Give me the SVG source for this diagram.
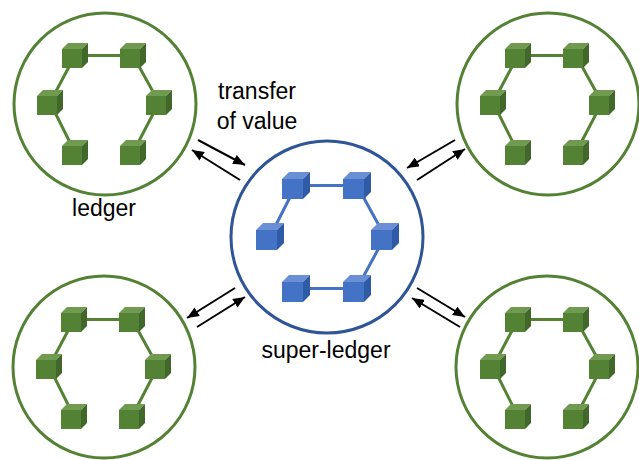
<svg xmlns="http://www.w3.org/2000/svg" xmlns:xlink="http://www.w3.org/1999/xlink" width="639" height="460" viewBox="0 0 639 460">
<style>
.ledger{fill:#fff;stroke:#548235;stroke-width:3}
.super{fill:#fff;stroke:#2F5597;stroke-width:3}
.glink{stroke:#548235;stroke-width:3;fill:none}
.blink{stroke:#4472C4;stroke-width:3;fill:none}
.arrow{stroke:#000;stroke-width:2;fill:none;marker-end:url(#ah)}
.lbl{font-family:"Liberation Sans",Arial,sans-serif;font-size:23px;fill:#000;text-anchor:middle}
</style>
<defs>
<marker id="ah" viewBox="0 0 12 10" refX="12" refY="5" markerWidth="12" markerHeight="10" markerUnits="userSpaceOnUse" orient="auto">
<path d="M0,0 L12,5 L0,10 z" fill="#000"/>
</marker>
<g id="gcube">
<rect x="0" y="6" width="20" height="19" fill="#548235"/>
<polygon points="0,6 6,0 26,0 20,6" fill="#6F9A50"/>
<polygon points="20,6 26,0 26,19 20,25" fill="#41682A"/>
</g>
<g id="bcube">
<rect x="0" y="7" width="21" height="20" fill="#4472C4"/>
<polygon points="0,7 7,0 28,0 21,7" fill="#6A8FD4"/>
<polygon points="21,7 28,0 28,20 21,27" fill="#2F5BA6"/>
</g>
<g id="gcluster">
<path class="glink" d="M-30,-48.5 L28,-48.5 M-30,-48.5 L-55,-1.5 L-30,48.5 M28,-48.5 L54,-1.5 L28,48.5"/>
<use xlink:href="#gcube" x="-43" y="-61"/>
<use xlink:href="#gcube" x="15" y="-61"/>
<use xlink:href="#gcube" x="-68" y="-14"/>
<use xlink:href="#gcube" x="41" y="-14"/>
<use xlink:href="#gcube" x="-43" y="36"/>
<use xlink:href="#gcube" x="15" y="36"/>
</g>
</defs>
<rect width="639" height="460" fill="#fff"/>
<g id="ledger-top-left">
<circle class="ledger" cx="105" cy="104" r="91"/>
<use xlink:href="#gcluster" transform="translate(105,104)"/>
</g>
<g id="ledger-top-right">
<circle class="ledger" cx="548" cy="104" r="91"/>
<use xlink:href="#gcluster" transform="translate(548,104)"/>
</g>
<g id="ledger-bottom-left">
<circle class="ledger" cx="104" cy="367" r="91"/>
<use xlink:href="#gcluster" transform="translate(104,368)"/>
</g>
<g id="ledger-bottom-right">
<circle class="ledger" cx="547" cy="367" r="91"/>
<use xlink:href="#gcluster" transform="translate(548,368)"/>
</g>
<g id="super-ledger">
<circle class="super" cx="327" cy="237" r="96"/>
<g transform="translate(327,237)">
<path class="blink" d="M-31,-51.5 L30,-51.5 M-31,-51.5 L-57,-0.5 M30,-51.5 L58,-0.5 L30,51.5 L-31,51.5"/>
<use xlink:href="#bcube" x="-45" y="-65"/>
<use xlink:href="#bcube" x="16" y="-65"/>
<use xlink:href="#bcube" x="-71" y="-14"/>
<use xlink:href="#bcube" x="44" y="-14"/>
<use xlink:href="#bcube" x="-45" y="38"/>
<use xlink:href="#bcube" x="16" y="38"/>
</g>
</g>
<g id="connectors">
<line class="arrow" x1="198" y1="140" x2="245" y2="165"/>
<line class="arrow" x1="240" y1="180" x2="192" y2="150"/>
<line class="arrow" x1="455" y1="140" x2="407" y2="168"/>
<line class="arrow" x1="417" y1="180" x2="465" y2="149"/>
<line class="arrow" x1="235" y1="288" x2="187" y2="318"/>
<line class="arrow" x1="197" y1="327" x2="245" y2="297"/>
<line class="arrow" x1="417" y1="288" x2="465" y2="317"/>
<line class="arrow" x1="460" y1="327" x2="412" y2="298"/>
</g>
<g id="labels">
<text class="lbl" x="257" y="99">transfer</text>
<text class="lbl" x="257" y="129">of value</text>
<text class="lbl" x="104" y="216">ledger</text>
<text class="lbl" x="326" y="358">super-ledger</text>
</g>
</svg>
